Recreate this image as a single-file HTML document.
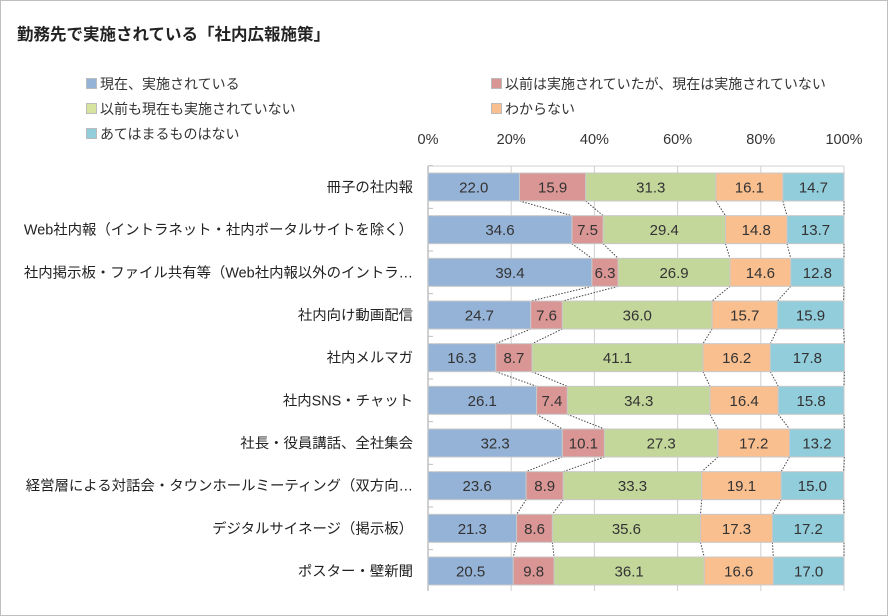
<!DOCTYPE html>
<html><head><meta charset="utf-8"><style>
body{margin:0;background:#fff;}
#wrap{position:relative;width:886px;height:614px;border:1px solid #bfbfbf;overflow:hidden;font-family:"Liberation Sans","Noto Sans CJK JP",sans-serif;color:#222;}
#title{position:absolute;left:16px;top:20px;font-size:16.5px;font-weight:bold;}
.leg{position:absolute;font-size:14px;color:#333;}
.leg i{display:inline-block;width:9px;height:9px;border:1px solid #bbb;margin-right:3px;vertical-align:0px;}
</style></head><body>
<div id="wrap">
<div id="title">勤務先で実施されている「社内広報施策」</div>
<div class="leg" style="left:85px;top:73px"><i style="background:#95b3d7"></i>現在、実施されている</div>
<div class="leg" style="left:490px;top:73px"><i style="background:#da9694"></i>以前は実施されていたが、現在は実施されていない</div>
<div class="leg" style="left:85px;top:98px"><i style="background:#d7e4a0"></i>以前も現在も実施されていない</div>
<div class="leg" style="left:490px;top:98px"><i style="background:#fabf8f"></i>わからない</div>
<div class="leg" style="left:85px;top:123px"><i style="background:#92cddc"></i>あてはまるものはない</div>
<svg id="chart" width="886" height="614" style="position:absolute;left:0;top:0"></svg>
</div>
<script>
const categories=["冊子の社内報","Web社内報（イントラネット・社内ポータルサイトを除く）","社内掲示板・ファイル共有等（Web社内報以外のイントラ…","社内向け動画配信","社内メルマガ","社内SNS・チャット","社長・役員講話、全社集会","経営層による対話会・タウンホールミーティング（双方向…","デジタルサイネージ（掲示板）","ポスター・壁新聞"];
const current=[22.0,34.6,39.4,24.7,16.3,26.1,32.3,23.6,21.3,20.5];
const previous=[15.9,7.5,6.3,7.6,8.7,7.4,10.1,8.9,8.6,9.8];
const never=[31.3,29.4,26.9,36.0,41.1,34.3,27.3,33.3,35.6,36.1];
const unknown=[16.1,14.8,14.6,15.7,16.2,16.4,17.2,19.1,17.3,16.6];
const none=[14.7,13.7,12.8,15.9,17.8,15.8,13.2,15.0,17.2,17.0];
const tickLabels=["0%","20%","40%","60%","80%","100%"];
const ticks=[0,20,40,60,80,100];
const series=[current,previous,never,unknown,none];
const seriesNames=["current","previous","never","unknown","none"];
const colors=["#95b3d7","#da9694","#c4d79b","#fabf8f","#92cddc"];
const NS="http://www.w3.org/2000/svg";
const svg=document.getElementById('chart');
const x0=427,x1=843,yTop=165,yBot=590;
const xs=v=>x0+(x1-x0)*v/100;
const rowH=(570-186)/9;
const yc=i=>186+i*rowH;
const bh=28;
const FF='"Liberation Sans","Noto Sans CJK JP",sans-serif';
function mk(t,a){const e=document.createElementNS(NS,t);for(const k in a)e.setAttribute(k,a[k]);svg.appendChild(e);return e;}
ticks.forEach((t,i)=>{
  const g=mk('line',{x1:xs(t),x2:xs(t),y1:yTop,y2:yBot,stroke:'#d0d0d0','stroke-width':1});
  
  
  const tx=mk('text',{x:xs(t),y:143,'text-anchor':'middle','font-size':14.5,fill:'#333','font-family':FF});
  tx.textContent=tickLabels[i];
  
  
});
mk('line',{x1:x0,x2:x1,y1:yTop,y2:yTop,stroke:'#d0d0d0'});
const ax=mk('line',{x1:x0,x2:x0,y1:yTop,y2:yBot,stroke:'#bfbfbf','stroke-width':1.5});


categories.forEach((c,i)=>{
  mk('line',{x1:x0,x2:x0+5,y1:yc(i)-rowH/2,y2:yc(i)-rowH/2,stroke:'#bfbfbf'});
  const t=mk('text',{x:412,y:yc(i)+5,'text-anchor':'end','font-size':14.4,fill:'#222','font-family':FF});
  t.textContent=c;
  
  
});
for(let i=0;i<categories.length-1;i++){
  let a=0,b=0;
  for(let s=0;s<series.length;s++){
    a+=series[s][i];b+=series[s][i+1];
    mk('line',{x1:xs(a),y1:yc(i)+bh/2,x2:xs(b),y2:yc(i+1)-bh/2,stroke:'#444','stroke-width':1,'stroke-dasharray':'1.5,1.5'});
  }
}
categories.forEach((c,i)=>{
  let acc=0;
  series.forEach((s,k)=>{
    const v=s[i];
    const r=mk('rect',{x:xs(acc),y:yc(i)-bh/2,width:xs(acc+v)-xs(acc),height:bh,fill:colors[k],stroke:'#c8c8c8','stroke-width':1});
    
    
    const t=mk('text',{x:(xs(acc)+xs(acc+v))/2,y:yc(i)+5.5,'text-anchor':'middle','font-size':15,fill:'#333','font-family':FF});
    t.textContent=v.toFixed(1);
    
    
    acc+=v;
  });
});
</script>
</body></html>
